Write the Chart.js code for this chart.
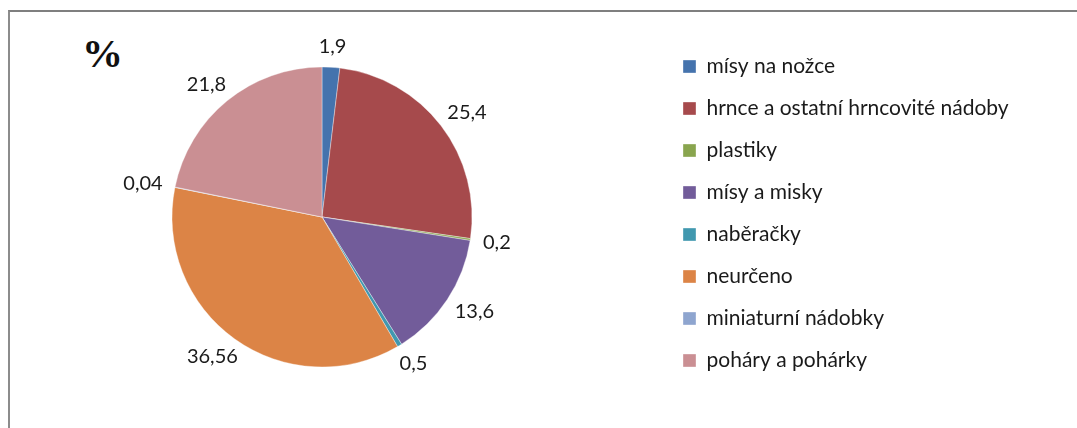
<!DOCTYPE html>
<html>
<head>
<meta charset="utf-8">
<script src="https://cdn.jsdelivr.net/npm/chart.js@4"></script>
<style>
  html, body { margin: 0; padding: 0; background: #fff; overflow: hidden; }
  #wrap { position: relative; width: 1077px; height: 428px; overflow: hidden; }
  #frame { position: absolute; left: 8px; top: 10px; width: 1100px; height: 440px;
           border-top: 2px solid #7f7f7f; border-left: 2px solid #8c8c8c; }
  #pct { position: absolute; left: 82px; top: 29px; font: bold 41px "Liberation Serif", serif; color: #111; }
  #pie { position: absolute; left: -40px; top: 0; }
</style>
</head>
<body>
<div id="wrap">
  <div id="frame"></div>
  <div id="pct">%</div>
  <canvas id="pie" width="1117" height="428"></canvas>
</div>
<script>
// categories and values (percent)
const categories = [
  "mísy na nožce",
  "hrnce a ostatní hrncovité nádoby",
  "plastiky",
  "mísy a misky",
  "naběračky",
  "neurčeno",
  "miniaturní nádobky",
  "poháry a pohárky",
];
const values = [1.9, 25.4, 0.2, 13.6, 0.5, 36.56, 0.04, 21.8];
const colors = [
  "#4573ad", "#a64a4c", "#89a54e", "#725c9a",
  "#4198af", "#dc8446", "#8ea5cf", "#ca8f93",
];

// labels outside each slice, using comma decimals
const outsideLabels = {
  id: "outsideLabels",
  afterDatasetsDraw(chart) {
    const ctx = chart.ctx;
    const meta = chart.getDatasetMeta(0);
    ctx.save();
    ctx.font = "20px Lato";
    ctx.fillStyle = "#1a1a1a";
    ctx.textAlign = "center";
    ctx.textBaseline = "middle";
    meta.data.forEach((arc, i) => {
      const p = arc.getProps(["x", "y", "startAngle", "endAngle", "outerRadius"], true);
      const mid = (p.startAngle + p.endAngle) / 2;
      const txt = String(values[i]).replace(".", ",");
      const w = ctx.measureText(txt).width;
      const c = Math.cos(mid), s = Math.sin(mid);
      const r = p.outerRadius + 13;
      const x = p.x + c * r + c * w / 2;
      const y = p.y + s * r + s * 8;
      ctx.fillText(txt, x, y);
    });
    ctx.restore();
  },
};

const ctx = document.getElementById("pie").getContext("2d");
const chart = new Chart(ctx, {
  type: "pie",
  data: {
    labels: categories,
    datasets: [
      {
        data: values,
        backgroundColor: colors,
        borderColor: "rgba(255,255,255,0.45)",
        borderWidth: 0.8,
        radius: 150,
      },
    ],
  },
  options: {
    responsive: false,
    animation: false,
    layout: { padding: { left: 22, right: 0, top: 35, bottom: 29 } },
    plugins: {
      tooltip: { enabled: false },
      legend: {
        position: "right",
        align: "start",
        labels: {
          boxWidth: 13,
          boxHeight: 13,
          padding: 21,
          color: "#1a1a1a",
          font: { family: "Lato", size: 21 },
        },
      },
    },
  },
  plugins: [outsideLabels],
});

// put the legend where the reference has it (box left edge at x = 683)
chart.options.layout.padding.right += chart.legend.left - (683 - 21 + 40);
chart.update();
</script>
</body>
</html>
